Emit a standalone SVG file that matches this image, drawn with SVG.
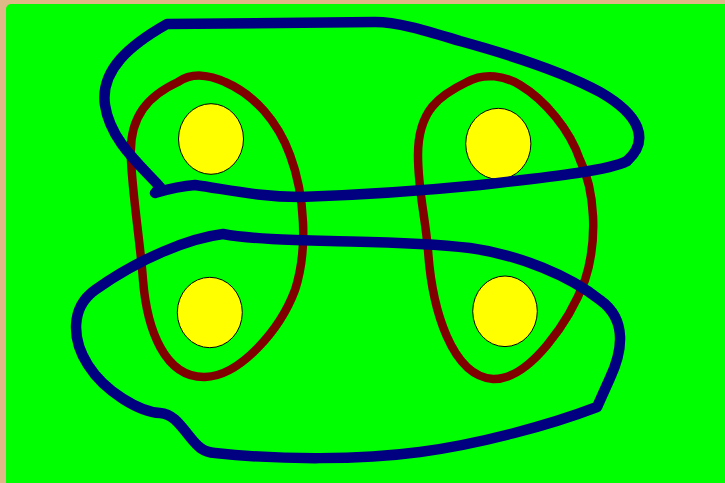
<svg xmlns="http://www.w3.org/2000/svg" width="725" height="483" viewBox="0 0 725 483">
<style>
.node{fill:#ffff00;stroke:#000000;stroke-width:1}
.red{fill:none;stroke:#800000;stroke-width:8.5;stroke-linejoin:round;stroke-linecap:round}
.blue{fill:none;stroke:#000080;stroke-width:10.5;stroke-linejoin:round;stroke-linecap:round}
</style>
<rect x="0" y="0" width="725" height="483" fill="#deb887"/>
<rect x="6" y="4" width="740" height="500" rx="5" fill="#00ff00"/>
<g id="n1"><ellipse class="node" cx="211" cy="139" rx="32.5" ry="35.3"/></g>
<g id="n2"><ellipse class="node" cx="498.3" cy="143.8" rx="32.6" ry="35.5"/></g>
<g id="n3"><ellipse class="node" cx="209.8" cy="312.5" rx="32.5" ry="35.2"/></g>
<g id="n4"><ellipse class="node" cx="505" cy="311.3" rx="32.3" ry="35.3"/></g>
<g id="connectors">
<path class="red" d="M178,82 C150,95 128,115 131,160 C133,200 140,240 143,280 C147,330 165,378 205,377 C240,376 280,330 295,290 C308,250 305,195 290,155 C278,122 255,95 225,82 C210,75 192,72 178,82 Z"/>
<path class="red" d="M467,82 C440,95 418,110 418,155 C418,190 425,215 428,250 C432,310 452,376 493,379 C530,380 570,320 585,280 C598,240 595,190 580,160 C570,130 545,100 520,85 C505,76 485,72 467,82 Z"/>
<path class="blue" d="M160,187 C140,165 110,140 105,105 C100,70 130,45 167,24 L375,22 C400,22 430,32 460,41 C500,52 560,70 600,92 C640,115 650,140 627,161 C610,170 560,176 480,185 C420,191 360,195 300,197 C260,197 230,190 195,185 C180,186 165,190 155,193 Z"/>
<path class="blue" d="M223,234 C190,238 140,258 95,290 C70,308 72,340 88,365 C105,392 140,412 160,413 C172,414 178,422 190,437 C198,447 203,452 215,453 C280,460 360,460 420,452 C480,444 550,425 597,407 L610,378 C622,352 628,320 600,300 C570,276 520,255 470,248 C420,242 370,242 330,241 C290,240 250,239 223,234 Z"/>
</g>
</svg>
